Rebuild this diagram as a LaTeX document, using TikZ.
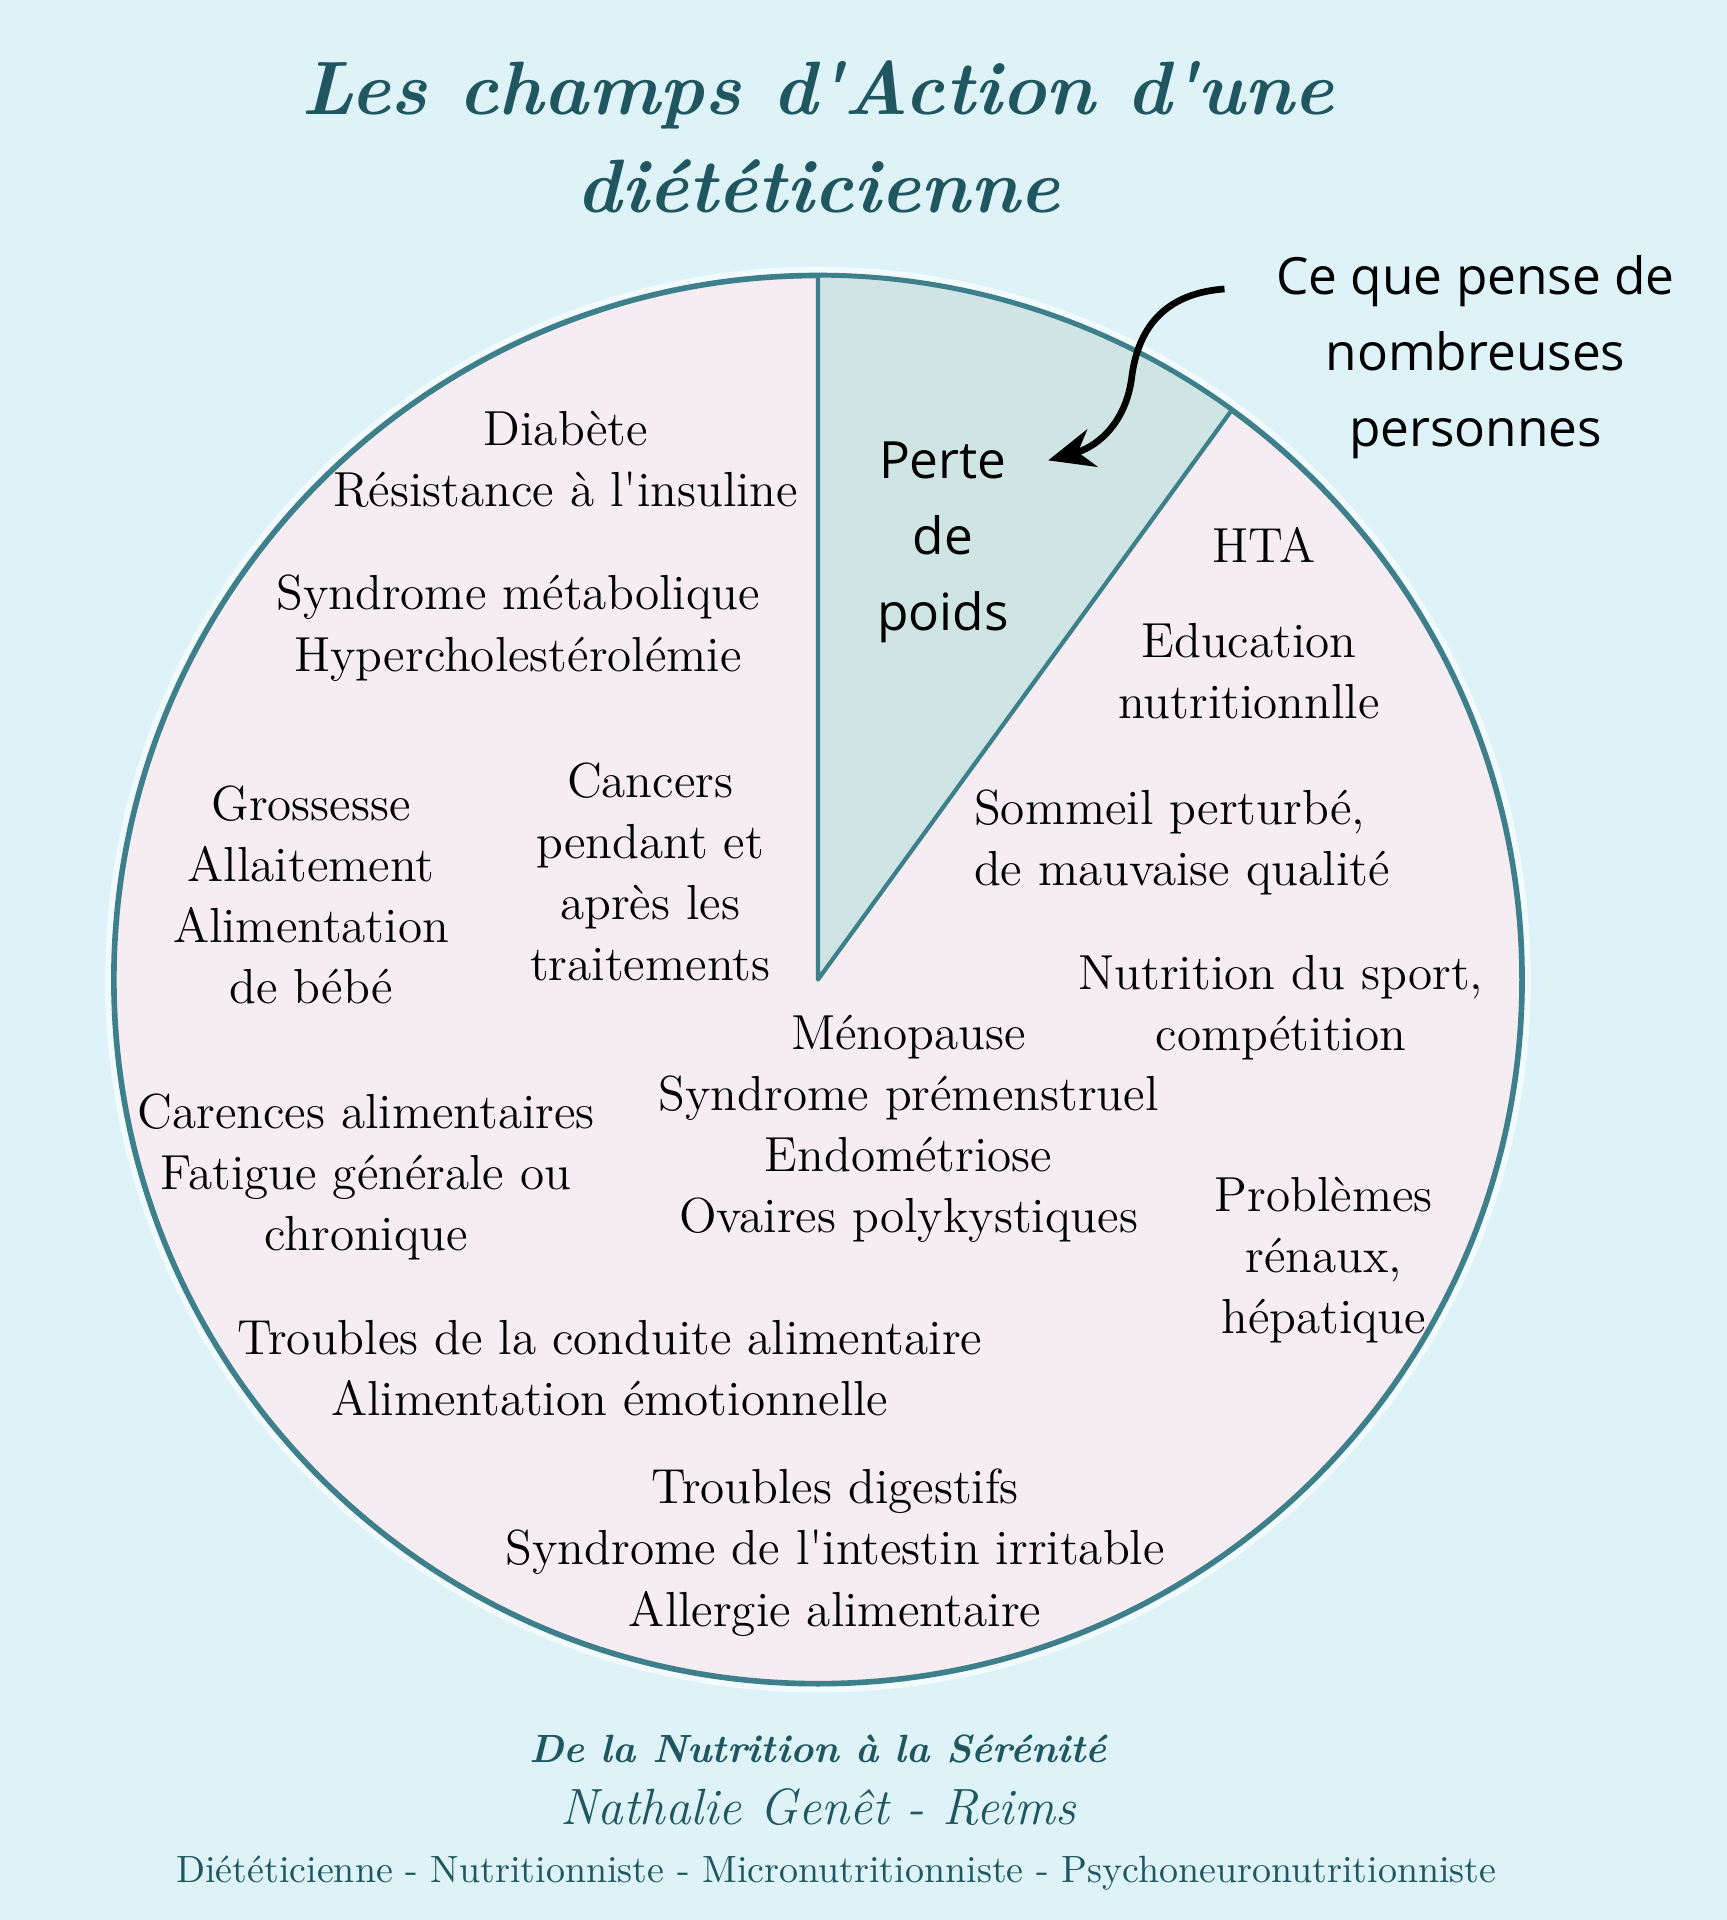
\documentclass[tikz,border=0pt]{standalone}
\usepackage{fontspec}
\newfontfamily\handfont{Open Sans}
\usetikzlibrary{calc,arrows.meta}
\definecolor{bgblue}{HTML}{DDF3F8}
\definecolor{pinkfill}{HTML}{F6EDF2}
\definecolor{wedgefill}{HTML}{CFE5E4}
\definecolor{rimteal}{HTML}{3D7F8B}
\definecolor{titleteal}{HTML}{1F5660}
\newcommand\q{\textquotesingle}
\tikzset{
  topic/.style={align=center,font=\fontsize{14}{17.4}\selectfont,inner sep=0pt},
  hand/.style={align=center,font=\handfont\fontsize{14.6}{21.6}\selectfont,inner sep=0pt},
  footer/.style={text=titleteal,inner sep=0pt}
}

\begin{document}
\begin{tikzpicture}[x=0.012241cm,y=-0.012241cm] % 1 unit = 1 px of the 1410 wide layout

\def\R{575} % pie radius
\fill[bgblue] (0,0) rectangle (1410,1568);
\useasboundingbox (0,0) rectangle (1410,1568);

% title
\node[align=center,text=titleteal,font=\bfseries\itshape\fontsize{21.5}{28}\selectfont] (title) at (668,112)
  {Les champs d\q Action d\q une\\diététicienne};

% the pie
\coordinate (ctr) at (668,800);
\draw[white,line width=5pt,opacity=.6] (ctr) circle (\R);
\filldraw[fill=pinkfill,draw=rimteal,line width=1.6pt] (ctr) circle (\R);
\filldraw[fill=wedgefill,draw=rimteal,line width=1.2pt,line join=round]
  (ctr) -- ++(0,-\R) arc[start angle=-90,end angle=-54,radius=\R] -- cycle;

\node[hand] (perte) at (770,443) {Perte\\de\\poids};
\node[hand] (think) at (1205,292) {Ce que pense de\\nombreuses\\personnes};
\coordinate (arrstart) at (1000,236);
\coordinate (arrtip) at (856,376);
\draw[line width=1.9pt,-{Stealth[length=13pt,width=11pt]}] (arrstart)
  .. controls (945,240) and (928,275) .. (924,310)
  .. controls (918,350) and (892,366) .. (arrtip);

% left half
\node[topic] (diab) at (462,375) {Diabète\\Résistance à l\q insuline};
\node[topic] (synd) at (423,513) {Syndrome métabolique\\Hypercholestérolémie};
\node[topic] (gross) at (254,731) {Grossesse\\Allaitement\\Alimentation\\de bébé};
\node[topic] (canc) at (531,712) {Cancers\\pendant et\\après les\\traitements};
\node[topic] (carn) at (299,961) {Carences alimentaires\\Fatigue générale ou\\chronique};
\node[topic] (tca) at (498,1117) {Troubles de la conduite alimentaire\\Alimentation émotionnelle};
\node[topic] (dig) at (682,1268) {Troubles digestifs\\Syndrome de l\q intestin irritable\\Allergie alimentaire};

% right half
\node[topic] (hta) at (1032,445) {HTA};
\node[topic] (educ) at (1020,548) {Education\\nutritionnlle};
\node[topic,align=left,anchor=west] (somm) at (795,688) {Sommeil perturbé,\\de mauvaise qualité};
\node[topic] (sport) at (1046,823) {Nutrition du sport,\\compétition};
\node[topic] (meno) at (742,922) {Ménopause\\Syndrome prémenstruel\\Endométriose\\Ovaires polykystiques};
\node[topic] (renal) at (1081,1029) {Problèmes\\rénaux,\\hépatique};

% signature
\node[footer,font=\bfseries\itshape\fontsize{11.2}{14}\selectfont] (sig1) at (668,1428) {De la Nutrition à la Sérénité};
\node[footer,font=\itshape\fontsize{14.5}{16}\selectfont] (sig2) at (668,1476) {Nathalie Genêt - Reims};
\node[footer,font=\fontsize{10.8}{12}\selectfont] (sig3) at (683,1530)
  {Diététicienne - Nutritionniste - Micronutritionniste - Psychoneuronutritionniste};

\end{tikzpicture}
\end{document}
